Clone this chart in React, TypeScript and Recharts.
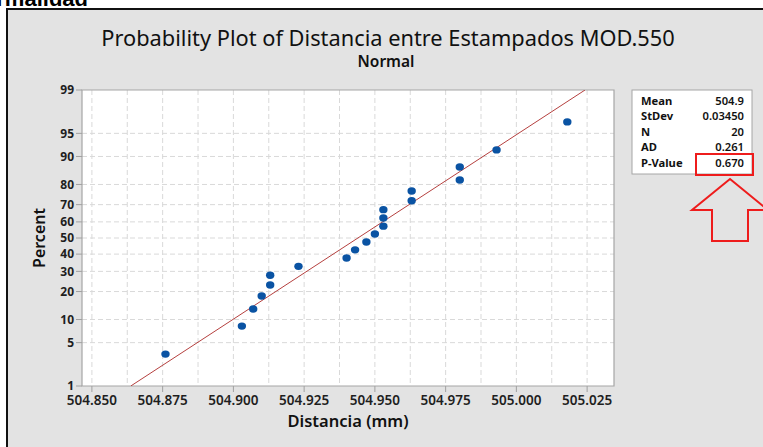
import {
  CartesianGrid,
  ReferenceArea,
  Scatter,
  ScatterChart,
  XAxis,
  YAxis,
} from "recharts";

// measured distances, sorted (mm)
const DISTANCIA = [
  504.876, 504.903, 504.907, 504.91, 504.913, 504.913, 504.923, 504.94, 504.943, 504.947,
  504.95, 504.953, 504.953, 504.953, 504.963, 504.963, 504.98, 504.98, 504.993, 505.018,
];
// plotted cumulative percent for each point
const PERCENT = [
  3.4, 8.3, 13.2, 18.1, 23.0, 27.9, 32.8, 37.7, 42.6, 47.5,
  52.5, 57.4, 62.3, 67.2, 72.1, 77.0, 81.9, 86.8, 91.7, 96.6,
];
const Y_TICKS = [1, 5, 10, 20, 30, 40, 50, 60, 70, 80, 90, 95, 99];
const X_TICKS = [504.85, 504.875, 504.9, 504.925, 504.95, 504.975, 505.0, 505.025];
const X_GRID = [
  504.85, 504.8625, 504.875, 504.8875, 504.9, 504.9125, 504.925, 504.9375, 504.95,
  504.9625, 504.975, 504.9875, 505.0, 505.0125, 505.025,
];
const X_DOMAIN = [504.8465, 505.0345];
const FIT_MEAN = 504.944;
const FIT_SD = 0.0345;
const STATS = [
  ["Mean", "504.9"],
  ["StDev", "0.03450"],
  ["N", "20"],
  ["AD", "0.261"],
  ["P-Value", "0.670"],
];

// inverse normal cdf (Acklam)
function probit(p: number) {
  const a = [-39.69683028665376, 220.9460984245205, -275.9285104469687, 138.357751867269, -30.66479806614716, 2.506628277459239];
  const b = [-54.47609879822406, 161.5858368580409, -155.6989798598866, 66.80131188771640, -13.28068155288572];
  const c = [-0.007784894002430293, -0.3223964580411365, -2.400758277161838, -2.549732539343734, 4.374664141464968, 2.938163982698783];
  const d = [0.007784695709041462, 0.3224671290700398, 2.445134137142996, 3.754408661907416];
  const lo = 0.02425;
  if (p < lo) {
    const q = Math.sqrt(-2 * Math.log(p));
    return (((((c[0] * q + c[1]) * q + c[2]) * q + c[3]) * q + c[4]) * q + c[5]) /
      ((((d[0] * q + d[1]) * q + d[2]) * q + d[3]) * q + 1);
  }
  if (p > 1 - lo) return -probit(1 - p);
  const q = p - 0.5;
  const r = q * q;
  return ((((((a[0] * r + a[1]) * r + a[2]) * r + a[3]) * r + a[4]) * r + a[5]) * q) /
    (((((b[0] * r + b[1]) * r + b[2]) * r + b[3]) * r + b[4]) * r + 1);
}

const zOf = (pct: number) => probit(pct / 100);
const Z_MAX = zOf(99);
const points = DISTANCIA.map((x, i) => ({ x, z: zOf(PERCENT[i]) }));
const fit = [
  { x: FIT_MEAN - Z_MAX * FIT_SD, z: -Z_MAX },
  { x: FIT_MEAN + Z_MAX * FIT_SD, z: Z_MAX },
];
const yTicks = Y_TICKS.map(zOf);
const labelFor = (z: number) => {
  let best = Y_TICKS[0];
  for (const t of Y_TICKS) if (Math.abs(zOf(t) - z) < Math.abs(zOf(best) - z)) best = t;
  return String(best);
};

const FONT = "'Noto Sans', 'Open Sans', sans-serif";

const Dot = (props: any) => (
  <ellipse cx={props.cx} cy={props.cy} rx={4.2} ry={3.7} fill="#0a53a3" />
);

export default function App() {
  return (
    <div style={{ position: "absolute", left: 0, top: 0, width: 763, height: 447, overflow: "hidden", background: "#fff", fontFamily: FONT }}>
      <svg width={763} height={447} style={{ position: "absolute", left: 0, top: 0 }}>
        <text x={88} y={6} textAnchor="end" fontFamily="'Liberation Sans', Arial, sans-serif" fontWeight={700} fontSize={22} fill="#000">
          Normalidad
        </text>
        <rect x={7} y={9} width={800} height={500} fill="#e3e3e3" stroke="#111" strokeWidth={2} />
      </svg>
      <div style={{ position: "absolute", left: 0, top: 0 }}>
        <ScatterChart width={763} height={447} margin={{ top: 90, right: 149, bottom: 31, left: 42 }}>
          <CartesianGrid
            fill="#fff"
            stroke="#d9d9d9"
            strokeDasharray="5 3"
            horizontalValues={yTicks.slice(1, -1)}
            verticalValues={X_GRID}
          />
          <XAxis
            type="number"
            dataKey="x"
            domain={X_DOMAIN}
            ticks={X_TICKS}
            allowDataOverflow
            tickFormatter={(v: number) => v.toFixed(3)}
            tick={{ fontSize: 13.5, fill: "#1e1e1e", fontWeight: 600, fontFamily: FONT }}
            tickLine={{ stroke: "#a0a0a0" }}
            tickMargin={3}
            axisLine={false}
            height={30}
            interval={0}
          />
          <YAxis
            type="number"
            dataKey="z"
            domain={[-Z_MAX, Z_MAX]}
            ticks={yTicks}
            allowDataOverflow
            tickFormatter={labelFor}
            tick={{ fontSize: 12, fill: "#1e1e1e", fontWeight: 700, fontFamily: FONT }}
            tickLine={{ stroke: "#a0a0a0" }}
            axisLine={false}
            width={40}
            interval={0}
          />
          <ReferenceArea
            x1={X_DOMAIN[0]}
            x2={X_DOMAIN[1]}
            y1={-Z_MAX}
            y2={Z_MAX}
            fill="none"
            stroke="#a6a6a6"
            strokeWidth={1.2}
          />
          <Scatter
            data={fit}
            line={{ stroke: "#b5403f", strokeWidth: 1 }}
            shape={() => null}
            isAnimationActive={false}
          />
          <Scatter data={points} shape={Dot} isAnimationActive={false} />
        </ScatterChart>
      </div>
      <svg width={763} height={447} style={{ position: "absolute", left: 0, top: 0, pointerEvents: "none" }}>
        <text x={388} y={46} textAnchor="middle" fontSize={21.8} fill="#111" fontFamily={FONT}>
          Probability Plot of Distancia entre Estampados MOD.550
        </text>
        <text x={386} y={67} textAnchor="middle" fontSize={15.5} fontWeight={600} fill="#111" fontFamily={FONT}>
          Normal
        </text>
        <text
          x={0}
          y={0}
          transform="translate(45 238) rotate(-90)"
          textAnchor="middle"
          fontSize={16}
          fontWeight={600}
          fill="#111"
          fontFamily={FONT}
        >
          Percent
        </text>
        <text x={348} y={427} textAnchor="middle" fontSize={16.5} fontWeight={600} fill="#111" fontFamily={FONT}>
          Distancia (mm)
        </text>
        <rect x={632} y={90} width={120} height={84} fill="#fff" stroke="#a6a6a6" />
        {STATS.map(([k, v], i) => (
          <g key={k}>
            <text x={641} y={104.5 + i * 15.5} fontSize={11.2} fontWeight={700} fill="#111" fontFamily={FONT}>
              {k}
            </text>
            <text x={744} y={104.5 + i * 15.5} textAnchor="end" fontSize={11.2} fontWeight={600} fill="#111" fontFamily={FONT}>
              {v}
            </text>
          </g>
        ))}
        <rect x={696} y={154} width={57} height={21} fill="none" stroke="#ee1c1c" strokeWidth={2} />
        <polygon
          points="730,179 768,210 748,210 748,241 712,241 712,210 692,210"
          fill="none"
          stroke="#ee1c1c"
          strokeWidth={2}
        />
      </svg>
    </div>
  );
}
